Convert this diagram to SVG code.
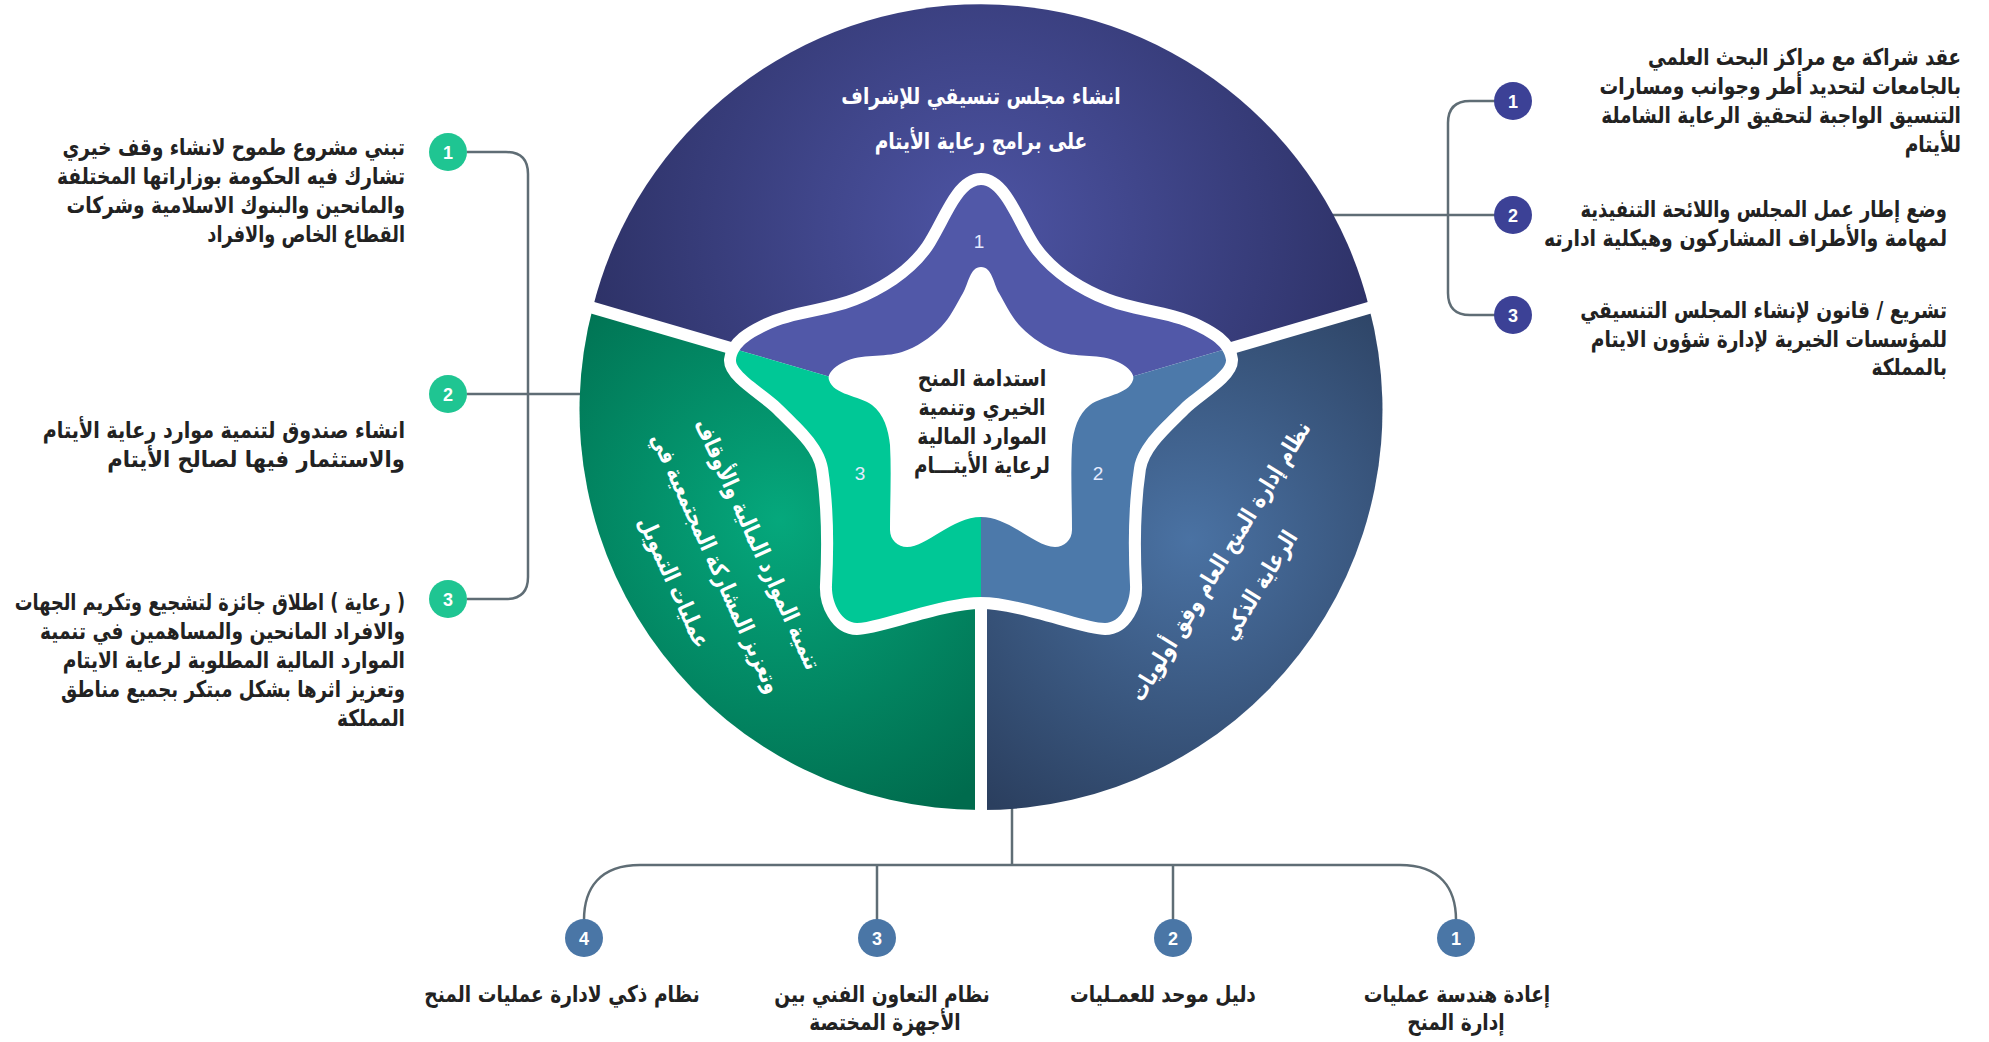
<svg xmlns="http://www.w3.org/2000/svg" width="1989" height="1042" viewBox="0 0 1989 1042">
<defs>
  <radialGradient id="gTop" gradientUnits="userSpaceOnUse" cx="981" cy="230" r="430">
    <stop offset="0" stop-color="#4d54a4"/>
    <stop offset="1" stop-color="#2b2f62"/>
  </radialGradient>
  <radialGradient id="gRight" gradientUnits="userSpaceOnUse" cx="1190" cy="540" r="330">
    <stop offset="0" stop-color="#4a72a3"/>
    <stop offset="1" stop-color="#2b3f5f"/>
  </radialGradient>
  <radialGradient id="gLeft" gradientUnits="userSpaceOnUse" cx="780" cy="520" r="330">
    <stop offset="0" stop-color="#05a87c"/>
    <stop offset="1" stop-color="#006b4d"/>
  </radialGradient>
  <path id="outerStar" d="M981,185 C1001,185 1014.6,227.9 1030,250 C1047.7,275.4 1076.2,293.5 1105,305 C1134.8,316.8 1167.2,316.9 1196,331 C1208.6,337.2 1224.6,346 1226,360 C1227,372 1194,391 1180,405 C1162.3,422.8 1137.8,443.3 1134,468 C1128.2,506.6 1128,546 1130,585 C1131,602 1121,623 1105,623 C1085,623 1020,597 981,597 C942,597 877,623 857,623 C841,623 831,602 832,585 C834,546 833.8,506.6 828,468 C824.2,443.3 799.7,422.8 782,405 C768,391 735,372 736,360 C737.4,346 753.4,337.2 766,331 C794.8,316.9 827.2,316.8 857,305 C885.8,293.5 914.3,275.4 932,250 C947.4,227.9 961,185 981,185 Z"/>
  <clipPath id="starClip"><use href="#outerStar"/></clipPath>
</defs>
<style>
  .lbl { font-family: "DejaVu Sans", sans-serif; font-weight: bold; font-size: 23px; fill: #222222; }
  .wt { fill: #ffffff; }
  .conn { fill: none; stroke: #5f6d75; stroke-width: 2.5; }
  .num { font-family: "Liberation Sans", sans-serif; font-weight: bold; font-size: 18px; fill: #ffffff; }
  .snum { font-family: "Liberation Sans", sans-serif; font-size: 19px; fill: #e6ebff; }
  .gap { stroke: #ffffff; stroke-width: 12; fill: none; }
  .cR { fill: #3c4196; }
  .cL { fill: #1fc592; }
  .cB { fill: #4a76a6; }
</style>

<g id="connectors">
  <path class="conn" d="M1495,101 H1470 Q1448,101 1448,123 V293 Q1448,315 1470,315 H1495"/>
  <path class="conn" d="M1330,215 H1495"/>
  <path class="conn" d="M467,152 H506 Q528,152 528,174 V577 Q528,599 506,599 H467"/>
  <path class="conn" d="M467,394 H581"/>
  <path class="conn" d="M1012,806 V865"/>
  <path class="conn" d="M584,920 C584,888 600,865 640,865 H1400 C1440,865 1456,888 1456,920"/>
  <path class="conn" d="M877,865 V920"/>
  <path class="conn" d="M1173,865 V920"/>
</g>

<g id="sector-top">
  <path d="M981,421 L593,307 A400,400 0 0 1 1369,307 Z" fill="url(#gTop)"/>
  <text class="lbl wt" text-anchor="middle" font-size="25" transform="translate(981,104) scale(0.81,1)">انشاء مجلس تنسيقي للإشراف</text>
  <text class="lbl wt" text-anchor="middle" font-size="25" transform="translate(981,149) scale(0.81,1)">على برامج رعاية الأيتام</text>
</g>

<g id="sector-right">
  <path d="M981,421 L1369,307 A400,400 0 0 1 981,810 Z" fill="url(#gRight)"/>
  <g transform="translate(1220,561) rotate(-58.4)">
    <text class="lbl wt" text-anchor="middle" font-size="24" transform="translate(0,8) scale(0.81,1)">نظام إدارة المنح العام وفق أولويات</text>
    <text class="lbl wt" text-anchor="middle" font-size="24" transform="translate(0,54) scale(0.81,1)">الرعاية الذكي</text>
  </g>
</g>

<g id="sector-left">
  <path d="M981,421 L981,810 A400,400 0 0 1 593,307 Z" fill="url(#gLeft)"/>
  <g transform="translate(716,563) rotate(65.6)">
    <text class="lbl wt" text-anchor="middle" font-size="24" transform="translate(0,-38) scale(0.81,1)">تنمية الموارد المالية والأوقاف</text>
    <text class="lbl wt" text-anchor="middle" font-size="24" transform="translate(0,8) scale(0.81,1)">وتعزيز المشاركة المجتمعية في</text>
    <text class="lbl wt" text-anchor="middle" font-size="24" transform="translate(0,54) scale(0.81,1)">عمليات التمويل</text>
  </g>
</g>

<g id="gaps">
  <path class="gap" d="M981,421 L566,300"/>
  <path class="gap" d="M981,421 L1396,300"/>
  <path class="gap" d="M981,421 L981,830"/>
</g>

<g id="center-star">
  <use href="#outerStar" fill="#ffffff" stroke="#ffffff" stroke-width="24" stroke-linejoin="round"/>
  <g clip-path="url(#starClip)">
    <polygon fill="#5158a8" points="981,421 560,298 560,120 1400,120 1400,298"/>
    <polygon fill="#4c79aa" points="981,421 1400,298 1400,700 981,700"/>
    <polygon fill="#00c896" points="981,421 981,700 560,700 560,298"/>
  </g>
  <path fill="#ffffff" d="M981,267 C992,267 993.5,283.5 999,293 C1005.5,304.3 1011.9,317.8 1021,327 C1031.5,337.7 1045.7,347.5 1060,352 C1079,358 1100,353.2 1118,362 C1125.2,365.5 1135.4,372.4 1133,380 C1128.2,395.2 1102.8,395.4 1090,405 C1078,414 1073.5,430 1072,445 C1070.5,473 1072,502 1072,530 C1072,540 1064,547 1055,547 C1035,547 1010,517 981,517 C952,517 927,547 907,547 C898,547 890,540 890,530 C890,502 891.5,473 890,445 C888.5,430 884,414 872,405 C859.2,395.4 833.8,395.2 829,380 C826.6,372.4 836.8,365.5 844,362 C862,353.2 883,358 902,352 C916.3,347.5 930.5,337.7 941,327 C950.1,317.8 956.5,304.3 963,293 C968.5,283.5 970,267 981,267 Z"/>
  <text class="snum" text-anchor="middle" x="979" y="248">1</text>
  <text class="snum" text-anchor="middle" x="1098" y="480">2</text>
  <text class="snum" text-anchor="middle" x="860" y="480">3</text>
  <text class="lbl" text-anchor="middle" fill="#2b2b2b" transform="translate(982,386) scale(0.83,1)">استدامة المنح</text>
  <text class="lbl" text-anchor="middle" fill="#2b2b2b" transform="translate(982,415) scale(0.81,1)">الخيري وتنمية</text>
  <text class="lbl" text-anchor="middle" fill="#2b2b2b" transform="translate(982,444) scale(0.81,1)">الموارد المالية</text>
  <text class="lbl" text-anchor="middle" fill="#2b2b2b" transform="translate(982,473) scale(0.8,1)">لرعاية الأيتـــام</text>
</g>

<g id="right-item-1">
  <circle class="cR" cx="1513" cy="101" r="19"/>
  <text class="num" text-anchor="middle" x="1513" y="107.5">1</text>
  <text class="lbl" text-anchor="end" transform="translate(1961,65) scale(0.79,1)">عقد شراكة مع مراكز البحث العلمي</text>
  <text class="lbl" text-anchor="end" transform="translate(1961,94) scale(0.81,1)">بالجامعات لتحديد أطر وجوانب ومسارات</text>
  <text class="lbl" text-anchor="end" transform="translate(1961,123) scale(0.81,1)">التنسيق الواجبة لتحقيق الرعاية الشاملة</text>
  <text class="lbl" text-anchor="end" transform="translate(1961,152) scale(0.81,1)">للأيتام</text>
</g>
<g id="right-item-2">
  <circle class="cR" cx="1513" cy="215" r="19"/>
  <text class="num" text-anchor="middle" x="1513" y="221.5">2</text>
  <text class="lbl" text-anchor="end" transform="translate(1947,217) scale(0.78,1)">وضع إطار عمل المجلس واللائحة التنفيذية</text>
  <text class="lbl" text-anchor="end" transform="translate(1947,246) scale(0.82,1)">لمهامة والأطراف المشاركون وهيكلية ادارته</text>
</g>
<g id="right-item-3">
  <circle class="cR" cx="1513" cy="315" r="19"/>
  <text class="num" text-anchor="middle" x="1513" y="321.5">3</text>
  <text class="lbl" text-anchor="end" transform="translate(1947,318) scale(0.81,1)">تشريع / قانون لإنشاء المجلس التنسيقي</text>
  <text class="lbl" text-anchor="end" transform="translate(1947,347) scale(0.81,1)">للمؤسسات الخيرية لإدارة شؤون الايتام</text>
  <text class="lbl" text-anchor="end" transform="translate(1947,375) scale(0.81,1)">بالمملكة</text>
</g>

<g id="left-item-1">
  <circle class="cL" cx="448" cy="152" r="19"/>
  <text class="num" text-anchor="middle" x="448" y="158.5">1</text>
  <text class="lbl" text-anchor="end" transform="translate(405,155) scale(0.8,1)">تبني مشروع طموح لانشاء وقف خيري</text>
  <text class="lbl" text-anchor="end" transform="translate(405,184) scale(0.81,1)">تشارك فيه الحكومة بوزاراتها المختلفة</text>
  <text class="lbl" text-anchor="end" transform="translate(405,213) scale(0.81,1)">والمانحين والبنوك الاسلامية وشركات</text>
  <text class="lbl" text-anchor="end" transform="translate(405,242) scale(0.77,1)">القطاع الخاص والافراد</text>
</g>
<g id="left-item-2">
  <circle class="cL" cx="448" cy="394" r="19"/>
  <text class="num" text-anchor="middle" x="448" y="400.5">2</text>
  <text class="lbl" text-anchor="end" transform="translate(405,438) scale(0.83,1)">انشاء صندوق لتنمية موارد رعاية الأيتام</text>
  <text class="lbl" text-anchor="end" transform="translate(405,467) scale(0.92,1)">والاستثمار فيها لصالح الأيتام</text>
</g>
<g id="left-item-3">
  <circle class="cL" cx="448" cy="599" r="19"/>
  <text class="num" text-anchor="middle" x="448" y="605.5">3</text>
  <text class="lbl" text-anchor="end" transform="translate(405,610) scale(0.77,1)">&#x200F;( رعاية ) اطلاق جائزة لتشجيع وتكريم الجهات</text>
  <text class="lbl" text-anchor="end" transform="translate(405,639) scale(0.81,1)">والافراد المانحين والمساهمين في تنمية</text>
  <text class="lbl" text-anchor="end" transform="translate(405,668) scale(0.81,1)">الموارد المالية المطلوبة لرعاية الايتام</text>
  <text class="lbl" text-anchor="end" transform="translate(405,697) scale(0.79,1)">وتعزيز اثرها بشكل مبتكر بجميع مناطق</text>
  <text class="lbl" text-anchor="end" transform="translate(405,726) scale(0.81,1)">المملكة</text>
</g>

<g id="bottom-item-4">
  <circle class="cB" cx="584" cy="938" r="19"/>
  <text class="num" text-anchor="middle" x="584" y="944.5">4</text>
  <text class="lbl" text-anchor="middle" transform="translate(562,1002) scale(0.81,1)">نظام ذكي لادارة عمليات المنح</text>
</g>
<g id="bottom-item-3">
  <circle class="cB" cx="877" cy="938" r="19"/>
  <text class="num" text-anchor="middle" x="877" y="944.5">3</text>
  <text class="lbl" text-anchor="middle" transform="translate(882,1002) scale(0.81,1)">نظام التعاون الفني بين</text>
  <text class="lbl" text-anchor="middle" transform="translate(885,1030) scale(0.81,1)">الأجهزة المختصة</text>
</g>
<g id="bottom-item-2">
  <circle class="cB" cx="1173" cy="938" r="19"/>
  <text class="num" text-anchor="middle" x="1173" y="944.5">2</text>
  <text class="lbl" text-anchor="middle" transform="translate(1163,1002) scale(0.81,1)">دليل موحد للعمـليات</text>
</g>
<g id="bottom-item-1">
  <circle class="cB" cx="1456" cy="938" r="19"/>
  <text class="num" text-anchor="middle" x="1456" y="944.5">1</text>
  <text class="lbl" text-anchor="middle" transform="translate(1457,1002) scale(0.81,1)">إعادة هندسة عمليات</text>
  <text class="lbl" text-anchor="middle" transform="translate(1456,1030) scale(0.81,1)">إدارة المنح</text>
</g>
</svg>
